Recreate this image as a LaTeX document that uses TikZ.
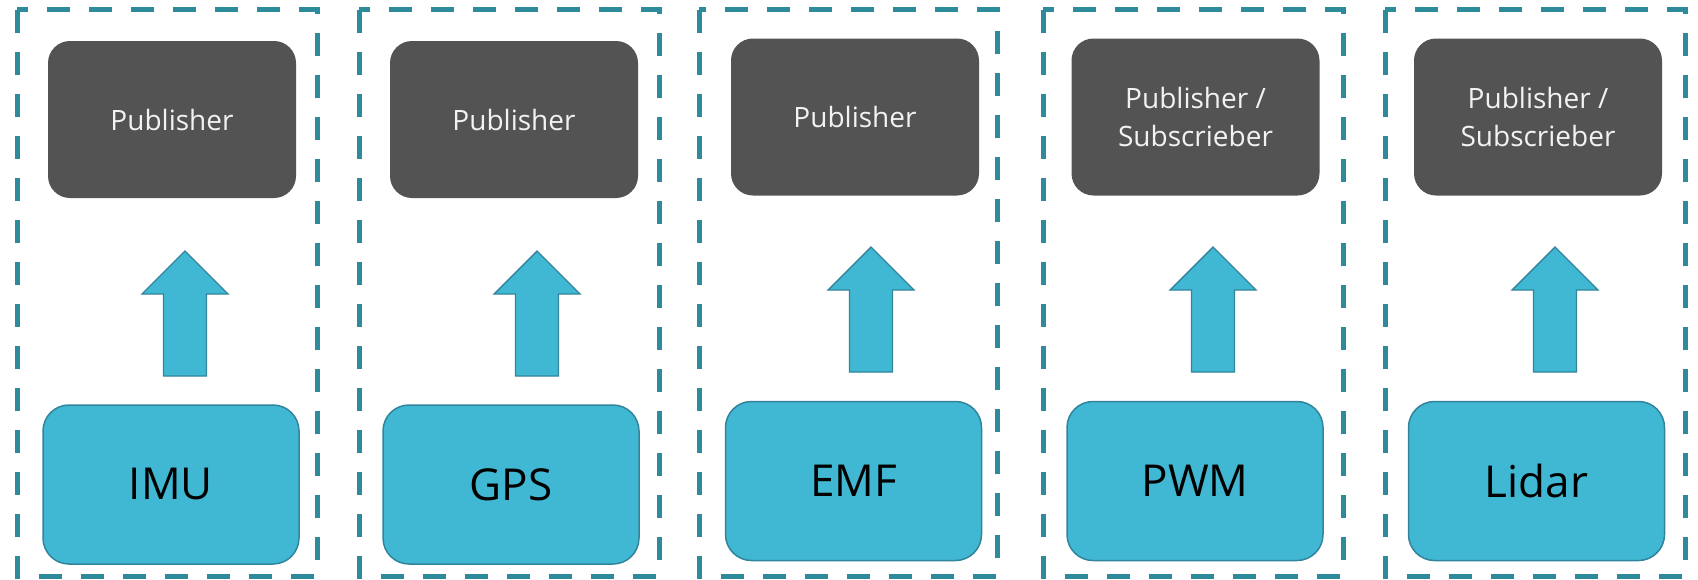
\documentclass[tikz,border=0pt]{standalone}
\usepackage{fontspec}
\setmainfont{Open Sans}
\usetikzlibrary{positioning}

\definecolor{pubgray}{HTML}{535353}
\definecolor{sensorfill}{HTML}{41B8D3}
\definecolor{sensorline}{HTML}{31849B}
\definecolor{panelline}{HTML}{2E8B9B}

\tikzset{
    pubbox/.style={draw=none, fill=pubgray, rounded corners=11pt, minimum width=124pt,
        minimum height=78.5pt, text=white!95!black, font=\fontsize{14}{19}\selectfont, align=center},
    sensorbox/.style={draw=sensorline, line width=0.75pt, fill=sensorfill, rounded corners=13pt,
        minimum width=128pt, minimum height=79.5pt, font=\fontsize{22}{26}\selectfont},
    panel/.style={draw=panelline, line width=2.5pt, dash pattern=on 11.5pt off 9.5pt},
    bigarrow/.style={draw=sensorline, line width=0.7pt, fill=sensorfill}
}

\begin{document}
\begin{tikzpicture}[x=0.5pt, y=-0.5pt]

    \useasboundingbox (0,0) rectangle (1698,579);

    % Draw the dashed panels
    \draw[panel] (17,9.6) rectangle (317,576);
    \draw[panel] (359,9.6) rectangle (659,576);
    \draw[panel] (699,9.6) rectangle (997,576);
    \draw[panel] (1043,9.6) rectangle (1343,576);
    \draw[panel] (1385,9.6) rectangle (1685,576);

    % Publisher boxes
    \node[pubbox] (imuPub) at (172,119.5) {Publisher};
    \node[pubbox] (gpsPub) at (514,119.5) {Publisher};
    \node[pubbox] (emfPub) at (855,117) {Publisher};
    \node[pubbox] (pwmPub) at (1195.5,117) {Publisher /\\Subscrieber};
    \node[pubbox] (lidarPub) at (1538,117) {Publisher /\\Subscrieber};

    % Sensor boxes
    \node[sensorbox] (imu) at (171,484.5) {IMU};
    \node[sensorbox] (gps) at (511,484.5) {GPS};
    \node[sensorbox] (emf) at (853.5,481) {EMF};
    \node[sensorbox] (pwm) at (1195,481) {PWM};
    \node[sensorbox] (lidar) at (1536.5,481) {Lidar};

    % Define the arrow tips
    \coordinate (imuTip) at (185,251);
    \coordinate (gpsTip) at (537,251);
    \coordinate (emfTip) at (871,247);
    \coordinate (pwmTip) at (1213,247);
    \coordinate (lidarTip) at (1555,247);

    % Draw the block arrows
    \draw[bigarrow] (imuTip) -- ++(43,43) -- ++(-21.5,0) -- ++(0,82) -- ++(-43,0) -- ++(0,-82) -- ++(-21.5,0) -- cycle;
    \draw[bigarrow] (gpsTip) -- ++(43,43) -- ++(-21.5,0) -- ++(0,82) -- ++(-43,0) -- ++(0,-82) -- ++(-21.5,0) -- cycle;
    \draw[bigarrow] (emfTip) -- ++(43,43) -- ++(-21.5,0) -- ++(0,82) -- ++(-43,0) -- ++(0,-82) -- ++(-21.5,0) -- cycle;
    \draw[bigarrow] (pwmTip) -- ++(43,43) -- ++(-21.5,0) -- ++(0,82) -- ++(-43,0) -- ++(0,-82) -- ++(-21.5,0) -- cycle;
    \draw[bigarrow] (lidarTip) -- ++(43,43) -- ++(-21.5,0) -- ++(0,82) -- ++(-43,0) -- ++(0,-82) -- ++(-21.5,0) -- cycle;

\end{tikzpicture}
\end{document}
